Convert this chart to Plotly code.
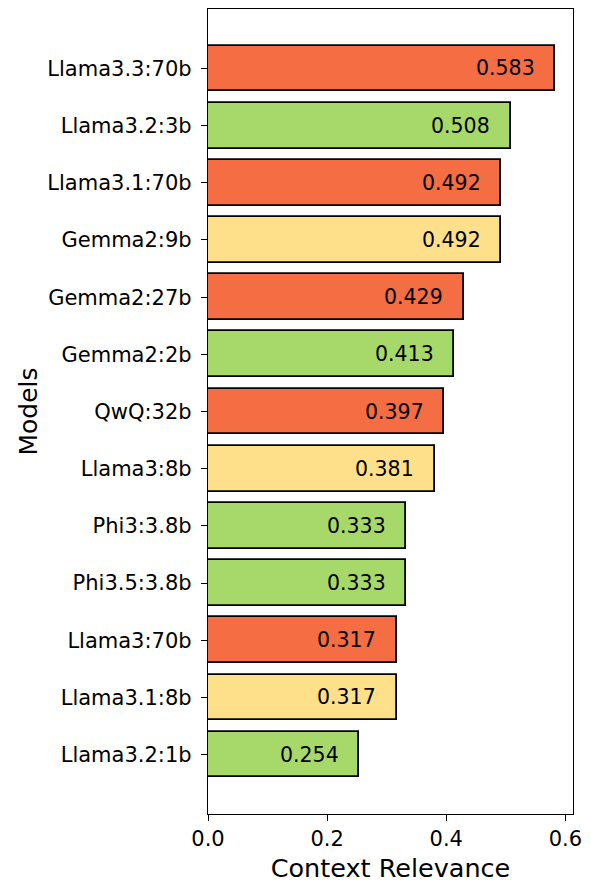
import plotly.graph_objects as go

models = ["Llama3.3:70b", "Llama3.2:3b", "Llama3.1:70b", "Gemma2:9b", "Gemma2:27b",
          "Gemma2:2b", "QwQ:32b", "Llama3:8b", "Phi3:3.8b", "Phi3.5:3.8b",
          "Llama3:70b", "Llama3.1:8b", "Llama3.2:1b"]
scores = [0.583, 0.508, 0.492, 0.492, 0.429, 0.413, 0.397, 0.381, 0.333, 0.333,
          0.317, 0.317, 0.254]
groups = ["large", "small", "large", "medium", "large", "small", "large", "medium",
          "small", "small", "large", "medium", "small"]
group_colors = {"large": "#F46D43", "medium": "#FEE08B", "small": "#A6D96A"}

x_ticks = [0.0, 0.2, 0.4, 0.6]
x_tick_text = ["0.0", "0.2", "0.4", "0.6"]

FONT = "DejaVu Sans"

fig = go.Figure()
fig.add_trace(go.Bar(
    x=scores, y=models, orientation="h", width=0.8,
    marker=dict(color=[group_colors[g] for g in groups],
                line=dict(color="black", width=1.8)),
    showlegend=False, hoverinfo="x+y",
))

for m, v in zip(models, scores):
    fig.add_annotation(x=v - 0.031, y=m, text=f"{v:.3f}", showarrow=False,
                       xanchor="right", yanchor="middle",
                       font=dict(family=FONT, size=20.5, color="black"))

# the page body adds an 8px offset; compensate in the figure size/margins
fig.update_layout(
    width=583, height=875,
    margin=dict(l=200, r=18, t=1, b=69),
    plot_bgcolor="white", paper_bgcolor="white",
    font=dict(family=FONT, size=21, color="black"),
    bargap=0,
)
fig.update_xaxes(
    range=[0, 0.6128], tickvals=x_ticks, ticktext=x_tick_text,
    showline=True, linecolor="black", linewidth=1.4, mirror=True,
    ticks="outside", ticklen=6, tickwidth=1.4, tickcolor="black",
    showgrid=False, zeroline=False,
    title=dict(text="Context Relevance", font=dict(family=FONT, size=25.5), standoff=9),
)
fig.update_yaxes(
    type="category", categoryorder="array", categoryarray=models,
    range=[13.04, -1.04],
    showline=True, linecolor="black", linewidth=1.4, mirror=True,
    ticks="outside", ticklen=6, tickwidth=1.4, tickcolor="black",
    ticklabelstandoff=5,
    showgrid=False, zeroline=False,
    title=dict(text="Models", font=dict(family=FONT, size=25), standoff=2),
)

fig.write_html("out.html")
